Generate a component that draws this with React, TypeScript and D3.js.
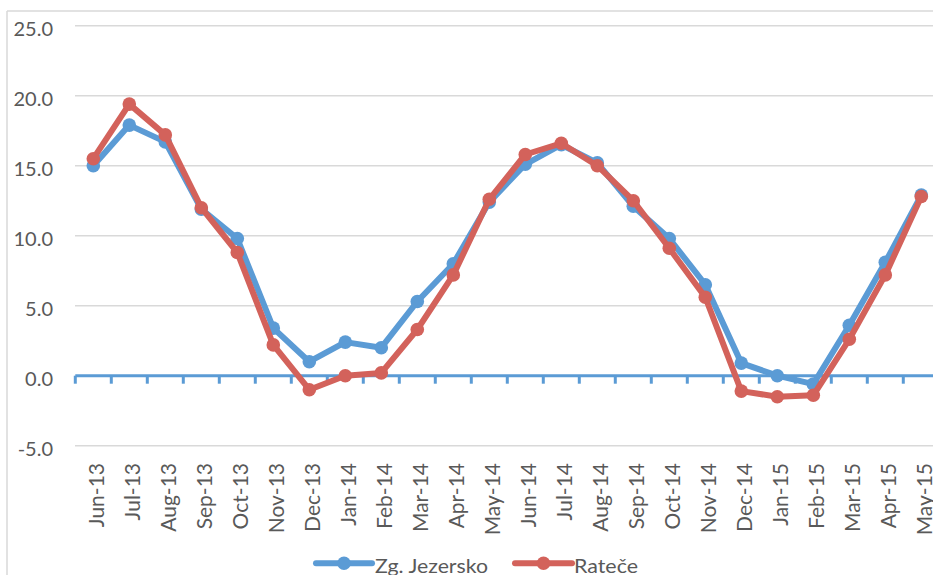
import React from "react";
import * as d3 from "d3";

// Monthly mean air temperature (°C) at two Slovenian stations
const months = [
  "Jun-13", "Jul-13", "Aug-13", "Sep-13", "Oct-13", "Nov-13", "Dec-13",
  "Jan-14", "Feb-14", "Mar-14", "Apr-14", "May-14", "Jun-14", "Jul-14",
  "Aug-14", "Sep-14", "Oct-14", "Nov-14", "Dec-14", "Jan-15", "Feb-15",
  "Mar-15", "Apr-15", "May-15",
];
const zgJezersko = [
  15.0, 17.9, 16.7, 11.9, 9.8, 3.4, 1.0, 2.4, 2.0, 5.3, 8.0, 12.4, 15.1,
  16.5, 15.2, 12.1, 9.8, 6.5, 0.9, 0.0, -0.6, 3.6, 8.1, 12.9,
];
const ratece = [
  15.5, 19.4, 17.2, 12.0, 8.8, 2.2, -1.0, 0.0, 0.2, 3.3, 7.2, 12.6, 15.8,
  16.6, 15.0, 12.5, 9.1, 5.6, -1.1, -1.5, -1.4, 2.6, 7.2, 12.8,
];
const yTicks = [-5, 0, 5, 10, 15, 20, 25];
const seriesNames = ["Zg. Jezersko", "Rateče"];

const W = 933;
const H = 575;
const BLUE = "#5B9BD5";
const RED = "#D3625B";
const GRID = "#D9D9D9";
const TEXT = "#595959";
const FONT = "Lato, 'Open Sans', sans-serif";

export default function App() {
  const x = d3.scaleBand<string>().domain(months).range([75.3, 939.3]);
  const y = d3.scaleLinear().domain([-5, 25]).range([445.7, 25.7]);
  const cx = (m: string) => (x(m) as number) + x.bandwidth() / 2;

  const line = d3
    .line<number>()
    .x((_, i) => cx(months[i]))
    .y((v) => y(v));

  const series = [
    { name: seriesNames[0], values: zgJezersko, color: BLUE },
    { name: seriesNames[1], values: ratece, color: RED },
  ];

  const tickXs = d3.range(months.length + 1).map((i) => x.range()[0] + i * x.step());

  const legend = [
    { name: seriesNames[0], color: BLUE, x0: 316, x1: 372, tx: 375, len: 113 },
    { name: seriesNames[1], color: RED, x0: 515, x1: 572, tx: 574, len: 64 },
  ];

  return (
    <svg
      width={W}
      height={H}
      style={{ position: "absolute", left: 0, top: 0, background: "#fff" }}
      fontFamily={FONT}
    >
      {/* chart frame */}
      <line x1={7} x2={W} y1={11} y2={11} stroke={GRID} strokeWidth={1.5} />
      <line x1={7} x2={7} y1={11} y2={H} stroke={GRID} strokeWidth={1.5} />

      {/* horizontal gridlines */}
      {yTicks
        .filter((t) => t !== 0)
        .map((t) => (
          <line key={t} x1={75} x2={W} y1={y(t)} y2={y(t)} stroke={GRID} strokeWidth={1.5} />
        ))}

      {/* y tick labels */}
      {yTicks.map((t) => (
        <text
          key={t}
          x={53}
          y={y(t) + 10}
          textAnchor="end"
          fontSize={20}
          fill={TEXT}
        >
          {t.toFixed(1)}
        </text>
      ))}

      {/* category axis at zero */}
      <line x1={75.3} x2={W} y1={y(0)} y2={y(0)} stroke={BLUE} strokeWidth={3} />
      {tickXs.map((tx, i) => (
        <line key={i} x1={tx} x2={tx} y1={y(0)} y2={y(0) + 8} stroke={BLUE} strokeWidth={3} />
      ))}

      {/* month labels */}
      {months.map((m) => (
        <text
          key={m}
          transform={`translate(${cx(m) + 10.6},463) rotate(-90)`}
          textAnchor="end"
          fontSize={21}
          fill={TEXT}
        >
          {m}
        </text>
      ))}

      {/* series */}
      {series.map((s) => (
        <g key={s.name}>
          <path
            d={line(s.values) || ""}
            fill="none"
            stroke={s.color}
            strokeWidth={6}
            strokeLinejoin="round"
          />
          {s.values.map((v, i) => (
            <circle key={i} cx={cx(months[i])} cy={y(v)} r={6.8} fill={s.color} />
          ))}
        </g>
      ))}

      {/* legend */}
      {legend.map((l) => (
        <g key={l.name}>
          <line x1={l.x0} x2={l.x1} y1={563.3} y2={563.3} stroke={l.color} strokeWidth={6} strokeLinecap="round" />
          <circle cx={(l.x0 + l.x1) / 2} cy={563.3} r={6.8} fill={l.color} />
          <text x={l.tx} y={572.5} fontSize={20} fill={TEXT} textLength={l.len} lengthAdjust="spacingAndGlyphs">
            {l.name}
          </text>
        </g>
      ))}
    </svg>
  );
}
